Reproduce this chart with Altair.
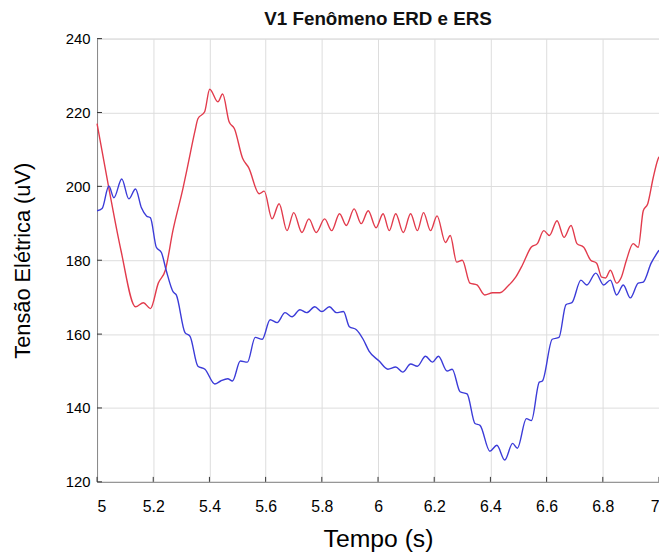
import altair as alt
import pandas as pd

# Red series
red_t = [5.0, 5.042, 5.085, 5.137, 5.165, 5.19, 5.218, 5.243, 5.27, 5.306, 5.324, 5.348, 5.359,
         5.383, 5.401, 5.43, 5.447, 5.47, 5.489, 5.518, 5.54, 5.577, 5.595, 5.623, 5.648, 5.676,
         5.70, 5.729, 5.754, 5.78, 5.81, 5.835, 5.863, 5.887, 5.915, 5.94, 5.965, 5.993, 6.018,
         6.04, 6.063, 6.09, 6.116, 6.14, 6.162, 6.187, 6.21, 6.24, 6.257, 6.28, 6.30, 6.327, 6.352,
         6.38, 6.408, 6.433, 6.46, 6.49, 6.514, 6.545, 6.567, 6.59, 6.61, 6.637, 6.662, 6.687,
         6.708, 6.732, 6.757, 6.778, 6.796, 6.81, 6.827, 6.849, 6.866, 6.884, 6.908, 6.926, 6.944,
         6.96, 6.979, 6.996, 7.0]
red_v = [217, 199.5, 182.7, 167.4, 168.5, 166.9, 173.8, 177.3, 188, 199.5, 206, 214.8, 218.3,
         220.2, 226.3, 222.9, 225, 217.5, 215.6, 207.6, 205, 198, 198.7, 191.2, 195.3, 188,
         192.9, 187.5, 191.2, 187.5, 191.2, 188, 192.6, 189.4, 193.9, 189.9, 193.4, 188.8, 192.6,
         188, 192.6, 187.5, 192.6, 188, 192.9, 188, 192, 184.8, 186.7, 179.5, 180, 173.8, 173.3,
         170.6, 171.2, 171.2, 172.8, 175.4, 178.7, 183.5, 184.5, 188, 186.7, 190.7, 186.2, 189.4,
         184.5, 183.5, 180, 179.2, 175.4, 175.2, 177.3, 173.8, 175.4, 180, 184.5, 183.5, 193.4,
         195.3, 202.2, 207.3, 208]

# Blue series
blue_t = [5.0, 5.018, 5.042, 5.06, 5.088, 5.113, 5.137, 5.158, 5.176, 5.19, 5.211, 5.229, 5.246,
          5.271, 5.282, 5.313, 5.331, 5.359, 5.384, 5.419, 5.44, 5.465, 5.482, 5.51, 5.535, 5.563,
          5.588, 5.616, 5.641, 5.669, 5.694, 5.722, 5.746, 5.775, 5.8, 5.827, 5.852, 5.877, 5.898,
          5.923, 5.947, 5.968, 6.004, 6.035, 6.063, 6.088, 6.116, 6.14, 6.169, 6.194, 6.215, 6.246,
          6.264, 6.292, 6.317, 6.345, 6.363, 6.398, 6.423, 6.451, 6.479, 6.496, 6.528, 6.546,
          6.574, 6.585, 6.62, 6.644, 6.669, 6.69, 6.722, 6.743, 6.775, 6.803, 6.827, 6.849, 6.873,
          6.898, 6.926, 6.944, 6.972, 7.0]
blue_v = [193.4, 194, 200.1, 196.9, 202, 196.6, 199.3, 194.2, 192, 191.5, 183.5, 182.1, 177.3,
          171.4, 170.6, 160.4, 159.4, 151.3, 150.5, 146.5, 147.3, 147.9, 147.3, 152.7, 152.4, 159.1,
          158.6, 163.9, 163.1, 165.8, 164.7, 166.6, 165.8, 167.4, 166.1, 167.4, 165.8, 166.1, 162,
          161.2, 158.6, 155.4, 152.7, 150.5, 151.1, 149.7, 151.9, 151.3, 154, 152.4, 154, 150,
          150.5, 144.4, 143.8, 135.8, 135.3, 128.3, 129.9, 125.9, 130.4, 129.1, 137.1, 136.6,
          147, 147.3, 158.6, 159.1, 168, 168.5, 174.6, 173.3, 176.5, 173.3, 174.6, 170.6, 173.3,
          169.8, 173.8, 174.1, 179.2, 182.7]

x_ticks = [5, 5.2, 5.4, 5.6, 5.8, 6, 6.2, 6.4, 6.6, 6.8, 7]
y_ticks = [120, 140, 160, 180, 200, 220, 240]

series_names = ["Série 1", "Série 2"]
series_colors = ["#e23b4c", "#3b3bd8"]

df = pd.concat([
    pd.DataFrame({"t": red_t, "v": red_v, "serie": series_names[0], "ordem": range(len(red_t))}),
    pd.DataFrame({"t": blue_t, "v": blue_v, "serie": series_names[1], "ordem": range(len(blue_t))}),
])

FONT = "Liberation Sans"
W, H = 568, 448

xscale = alt.Scale(domain=[5, 7], nice=False, zero=False)
yscale = alt.Scale(domain=[120, 240], nice=False, zero=False)

xaxis = alt.Axis(values=x_ticks, format="~g", title="Tempo (s)", ticks=False,
                 labelPadding=17, titlePadding=12, titleFontSize=25,
                 titleFontWeight="normal", labelFontSize=16)
yaxis = alt.Axis(values=y_ticks, title="Tensão Elétrica (uV)", ticks=False,
                 labelPadding=7, titlePadding=31, titleFontSize=22,
                 titleFontWeight="normal", labelFontSize=15)

lines = alt.Chart(df).mark_line(strokeWidth=1.4, interpolate="monotone").encode(
    x=alt.X("t:Q", scale=xscale, axis=xaxis),
    y=alt.Y("v:Q", scale=yscale, axis=yaxis),
    color=alt.Color("serie:N", scale=alt.Scale(domain=series_names, range=series_colors), legend=None),
    order="ordem:Q",
)

ytick = alt.Chart(pd.DataFrame({"v": y_ticks})).mark_rule(color="#333333", strokeWidth=1).encode(
    y=alt.Y("v:Q", scale=yscale, axis=yaxis), x=alt.value(0), x2=alt.value(5))
xtick = alt.Chart(pd.DataFrame({"t": x_ticks})).mark_rule(color="#333333", strokeWidth=1).encode(
    x=alt.X("t:Q", scale=xscale, axis=xaxis), y=alt.value(H), y2=alt.value(H - 5))

chart = alt.layer(lines, ytick, xtick).properties(
    width=W, height=H,
    title=alt.TitleParams("V1 Fenômeno ERD e ERS", fontSize=19, fontWeight="bold", font=FONT,
                          color="#111111", offset=3, anchor="middle"),
    autosize=alt.AutoSizeParams(type="none"),
    padding={"left": 90, "top": 28, "right": 0, "bottom": 70},
).configure_view(stroke=None).configure_axis(
    labelFont=FONT, titleFont=FONT, labelColor="#444444", titleColor="#222222",
    domainColor="#333333", domainWidth=1, gridColor="#e3e3e3", gridWidth=1,
).configure(background="white")

chart.save("out.html", embed_options={"renderer": "svg", "actions": False})
